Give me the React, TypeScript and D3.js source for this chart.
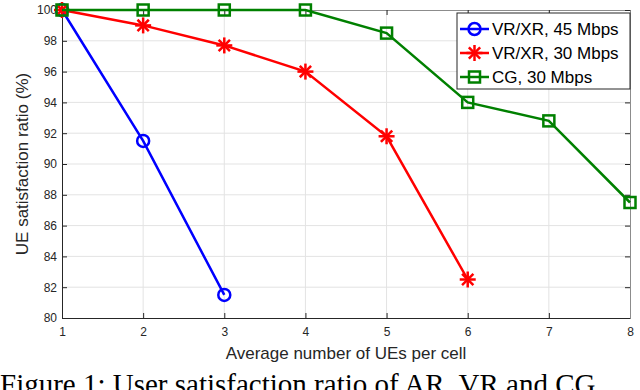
import React, { useEffect, useRef } from "react";
import * as d3 from "d3";

const xTicks = [1, 2, 3, 4, 5, 6, 7, 8];
const yTicks = [80, 82, 84, 86, 88, 90, 92, 94, 96, 98, 100];

const vr45X = [1, 2, 3];
const vr45Y = [100, 91.5, 81.5];
const vr30X = [1, 2, 3, 4, 5, 6];
const vr30Y = [100, 99, 97.7, 96, 91.8, 82.5];
const cgX = [1, 2, 3, 4, 5, 6, 7, 8];
const cgY = [100, 100, 100, 100, 98.5, 94, 92.8, 87.5];

const seriesNames = ["VR/XR, 45 Mbps", "VR/XR, 30 Mbps", "CG, 30 Mbps"];
const colors = ["#0000ff", "#ff0000", "#008000"];
const markers = ["circle", "star", "square"];

const App = () => {
    const ref = useRef<SVGSVGElement>(null);

    useEffect(() => {
        const svg = d3.select(ref.current);
        svg.selectAll("*").remove();

        const width = 640;
        const height = 390;
        const left = 62, right = 630, top = 10, bottom = 318;
        const font = "'Liberation Sans', Arial, sans-serif";

        const x = d3.scaleLinear().domain([1, 8]).range([left, right]);
        const y = d3.scaleLinear().domain([80, 100]).range([bottom, top]);

        svg.attr("width", width).attr("height", height);
        svg.append("rect").attr("width", width).attr("height", height).attr("fill", "white");

        // grid
        const grid = svg.append("g").attr("stroke", "#e3e3e3").attr("stroke-width", 1);
        xTicks.slice(1, -1).forEach((t) => {
            grid.append("line").attr("x1", x(t)).attr("x2", x(t)).attr("y1", top).attr("y2", bottom);
        });
        yTicks.slice(1, -1).forEach((t) => {
            grid.append("line").attr("x1", left).attr("x2", right).attr("y1", y(t)).attr("y2", y(t));
        });

        // axes
        const axisColor = "#262626";
        const axB = svg.append("g").attr("transform", `translate(0,${bottom})`)
            .call(d3.axisBottom(x).tickValues(xTicks).tickSize(-5).tickPadding(9).tickFormat(d3.format("d")));
        const axL = svg.append("g").attr("transform", `translate(${left},0)`)
            .call(d3.axisLeft(y).tickValues(yTicks).tickSize(-5).tickPadding(5).tickFormat(d3.format("d")));
        const axT = svg.append("g").attr("transform", `translate(0,${top})`)
            .call(d3.axisTop(x).tickValues(xTicks).tickSize(-5).tickFormat(() => ""));
        const axR = svg.append("g").attr("transform", `translate(${right},0)`)
            .call(d3.axisRight(y).tickValues(yTicks).tickSize(-5).tickFormat(() => ""));
        [axB, axL, axT, axR].forEach((a) => {
            a.selectAll("path,line").attr("stroke", axisColor).attr("stroke-width", 1);
            a.selectAll("text").attr("fill", axisColor).attr("font-size", 12).attr("font-family", font);
        });
        axT.select("path").attr("stroke", "#8c8c8c");
        axR.select("path").attr("stroke", "#8c8c8c");

        // labels
        svg.append("text").attr("x", (left + right) / 2).attr("y", 359)
            .attr("text-anchor", "middle").attr("font-size", 17).attr("font-family", font)
            .attr("fill", axisColor).text("Average number of UEs per cell");
        svg.append("text").attr("transform", `translate(28,${(top + bottom) / 2}) rotate(-90)`)
            .attr("text-anchor", "middle").attr("font-size", 17).attr("font-family", font)
            .attr("fill", axisColor).text("UE satisfaction ratio (%)");

        const drawMarker = (g: any, kind: string, cx: number, cy: number, color: string) => {
            if (kind === "circle") {
                g.append("circle").attr("cx", cx).attr("cy", cy).attr("r", 6)
                    .attr("fill", "none").attr("stroke", color).attr("stroke-width", 2.5);
            } else if (kind === "square") {
                g.append("rect").attr("x", cx - 5.5).attr("y", cy - 5.5).attr("width", 11).attr("height", 11)
                    .attr("fill", "none").attr("stroke", color).attr("stroke-width", 2.5);
            } else {
                const r = 8;
                [0, 45, 90, 135].forEach((a) => {
                    const rad = (a * Math.PI) / 180;
                    g.append("line")
                        .attr("x1", cx - r * Math.cos(rad)).attr("y1", cy - r * Math.sin(rad))
                        .attr("x2", cx + r * Math.cos(rad)).attr("y2", cy + r * Math.sin(rad))
                        .attr("stroke", color).attr("stroke-width", 2.5);
                });
            }
        };

        const series = [
            { xs: vr45X, ys: vr45Y },
            { xs: vr30X, ys: vr30Y },
            { xs: cgX, ys: cgY },
        ];
        const line = d3.line<[number, number]>().x((d) => x(d[0])).y((d) => y(d[1]));
        series.forEach((s, i) => {
            const pts: [number, number][] = s.xs.map((v, j) => [v, s.ys[j]]);
            const g = svg.append("g");
            g.append("path").attr("d", line(pts)).attr("fill", "none")
                .attr("stroke", colors[i]).attr("stroke-width", 2.5);
            pts.forEach((p) => drawMarker(g, markers[i], x(p[0]), y(p[1]), colors[i]));
        });

        // legend
        const lg = svg.append("g");
        lg.append("rect").attr("x", 457).attr("y", 13).attr("width", 173).attr("height", 76)
            .attr("fill", "white").attr("stroke", axisColor).attr("stroke-width", 1);
        seriesNames.forEach((name, i) => {
            const ly = 29 + i * 24;
            lg.append("line").attr("x1", 460).attr("x2", 489).attr("y1", ly).attr("y2", ly)
                .attr("stroke", colors[i]).attr("stroke-width", 2.5);
            drawMarker(lg, markers[i], 474.5, ly, colors[i]);
            lg.append("text").attr("x", 492).attr("y", ly + 6).attr("font-size", 17)
                .attr("font-family", font).attr("fill", "#000").text(name);
        });

        // caption (cut off by the window bottom, as in the source figure)
        svg.append("text").attr("x", 0).attr("y", 394).attr("font-size", 29)
            .attr("font-family", "'Liberation Serif', 'Times New Roman', serif")
            .attr("fill", "#000").text("Figure 1: User satisfaction ratio of AR, VR and CG");
    }, []);

    return <svg ref={ref} style={{ position: "absolute", left: 0, top: 0, display: "block" }}></svg>;
};

export default App;
